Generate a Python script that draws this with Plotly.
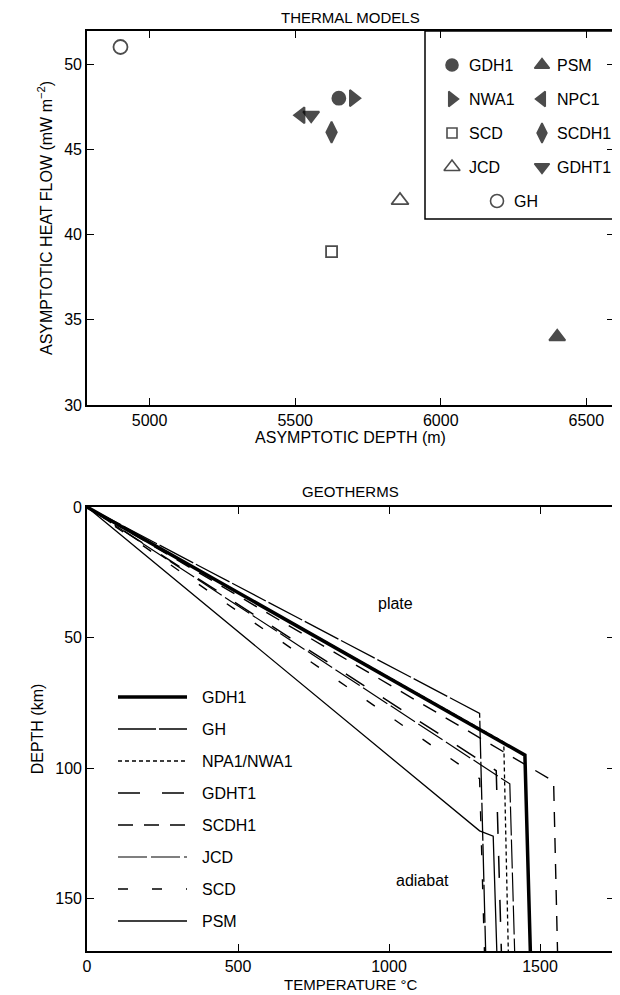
import plotly.graph_objects as go

# ---------------- Top chart: thermal models ----------------
models = ["GDH1", "PSM", "NWA1", "NPC1", "SCD", "SCDH1", "JCD", "GDHT1", "GH"]
asym_depth_m = [5650, 6400, 5700, 5520, 5625, 5625, 5860, 5555, 4900]
asym_heat_flow = [48, 34, 48, 47, 39, 46, 42, 47, 51]
top_x_ticks = [5000, 5500, 6000, 6500]
top_y_ticks = [30, 35, 40, 45, 50]

# ---------------- Bottom chart: geotherms ----------------
geo_names = ["GDH1", "GH", "NPA1/NWA1", "GDHT1", "SCDH1", "JCD", "SCD", "PSM"]
gdh1_T = [0, 1450, 1468]
gdh1_z = [0, 95, 170]
gh_T = [0, 1300, 1320]
gh_z = [0, 79, 170]
npa1_T = [0, 1380, 1395]
npa1_z = [0, 90, 170]
gdht1_T = [0, 1355, 1372]
gdht1_z = [0, 101, 170]
scdh1_T = [0, 1545, 1558]
scdh1_z = [0, 105, 170]
jcd_T = [0, 1400, 1416]
jcd_z = [0, 106, 170]
scd_T = [0, 1300, 1316]
scd_z = [0, 104, 170]
psm_T = [0, 1300, 1345, 1357]
psm_z = [0, 124, 126, 170]
bottom_x_ticks = [0, 500, 1000, 1500]
bottom_y_ticks = [0, 50, 100, 150]

geo_T = [gdh1_T, gh_T, npa1_T, gdht1_T, scdh1_T, jcd_T, scd_T, psm_T]
geo_z = [gdh1_z, gh_z, npa1_z, gdht1_z, scdh1_z, jcd_z, scd_z, psm_z]

# ---------------- Styles ----------------
FONT = "Liberation Sans, Arial, sans-serif"
marker_style = {
    "GDH1": dict(symbol="circle", size=13),
    "PSM": dict(symbol="triangle-up", size=14),
    "NWA1": dict(symbol="triangle-right", size=14),
    "NPC1": dict(symbol="triangle-left", size=14),
    "SCD": dict(symbol="square-open", size=11),
    "SCDH1": dict(symbol="diamond-tall", size=15),
    "JCD": dict(symbol="triangle-up-open", size=15),
    "GDHT1": dict(symbol="triangle-down", size=14),
    "GH": dict(symbol="circle-open", size=14),
}
line_style = {
    "GDH1": dict(width=3.5, dash="solid"),
    "GH": dict(width=1.3, dash="38px,3px"),
    "NPA1/NWA1": dict(width=1.3, dash="4px,3px"),
    "GDHT1": dict(width=1.5, dash="22px,22px"),
    "SCDH1": dict(width=1.4, dash="15px,11px"),
    "JCD": dict(width=1.2, dash="29px,4px"),
    "SCD": dict(width=1.4, dash="10px,24px"),
    "PSM": dict(width=1.3, dash="solid"),
}

# ---------------- Geometry ----------------
# The page body has an 8 px margin, so the figure is drawn 8 px smaller and
# all screen positions below are given in window pixels.
OFF = 8
WIN_W, WIN_H = 620, 995
W, H = WIN_W - OFF, WIN_H - OFF
S_LEFT, S_RIGHT, S_TOP, S_BOTTOM = 87, 614, 31, 951      # plot area in window px
ML, MT = S_LEFT - OFF, S_TOP - OFF
MR, MB = WIN_W - S_RIGHT, WIN_H - S_BOTTOM
PH = S_BOTTOM - S_TOP

def py(sy):  # window pixel y -> paper y
    return (S_BOTTOM - sy) / PH

top_dom = [py(405), 1.0]
bot_dom = [0.0, py(507)]

fig = go.Figure()

# data: top scatter
fig.add_trace(go.Scatter(
    x=asym_depth_m, y=asym_heat_flow, mode="markers",
    marker=dict(color="black",
                symbol=[marker_style[m]["symbol"] for m in models],
                size=[marker_style[m]["size"] for m in models],
                line=dict(color="black", width=1.8)),
    xaxis="x", yaxis="y", showlegend=False, cliponaxis=False,
))

# data: bottom geotherms
for name, T, z in zip(geo_names, geo_T, geo_z):
    st = line_style[name]
    fig.add_trace(go.Scatter(
        x=T, y=z, mode="lines",
        line=dict(color="black", width=st["width"], dash=st["dash"]),
        xaxis="x2", yaxis="y2", showlegend=False,
    ))

# ---------------- Manual legends on a window-pixel overlay axis ----------------
leg_col_marker = [452, 542]
leg_col_text = [467, 555]
leg_row0, leg_row_step = 65, 34
lx, ly = [], []
for i, m in enumerate(models):
    r, c = divmod(i, 2)
    if i == len(models) - 1 and len(models) % 2 == 1:
        mx, tx = 497, 512
    else:
        mx, tx = leg_col_marker[c], leg_col_text[c]
    yy = leg_row0 + r * leg_row_step
    lx.append(mx); ly.append(yy)
    fig.add_annotation(x=tx, y=yy, xref="x3", yref="y3", text=m, showarrow=False,
                       xanchor="left", yanchor="middle",
                       font=dict(family=FONT, size=16, color="black"))
fig.add_trace(go.Scatter(
    x=lx, y=ly, mode="markers", xaxis="x3", yaxis="y3", showlegend=False,
    marker=dict(color="black",
                symbol=[marker_style[m]["symbol"] for m in models],
                size=[marker_style[m]["size"] - 1 for m in models],
                line=dict(color="black", width=1.6)),
    cliponaxis=False,
))
fig.add_shape(type="rect", xref="x3", yref="y3", x0=425, x1=S_RIGHT, y0=S_TOP, y1=219,
              line=dict(color="black", width=1.5))

bl_x0, bl_x1, bl_tx = 118, 187, 200
bl_row0, bl_step = 697, 32
for i, name in enumerate(geo_names):
    st = line_style[name]
    yy = bl_row0 + i * bl_step
    fig.add_trace(go.Scatter(
        x=[bl_x0, bl_x1], y=[yy, yy], mode="lines", xaxis="x3", yaxis="y3",
        line=dict(color="black", width=st["width"], dash=st["dash"]),
        showlegend=False,
    ))
    fig.add_annotation(x=bl_tx, y=yy, xref="x3", yref="y3", text=name, showarrow=False,
                       xanchor="left", yanchor="middle",
                       font=dict(family=FONT, size=16, color="black"))

# region labels
fig.add_annotation(x=1020, y=37, xref="x2", yref="y2", text="plate", showarrow=False,
                   font=dict(family=FONT, size=16, color="black"))
fig.add_annotation(x=1110, y=143, xref="x2", yref="y2", text="adiabat", showarrow=False,
                   font=dict(family=FONT, size=16, color="black"))

# titles
fig.add_annotation(x=0.5, y=py(18), xref="paper", yref="paper", text="THERMAL MODELS",
                   showarrow=False, yanchor="middle",
                   font=dict(family=FONT, size=15, color="black"))
fig.add_annotation(x=0.5, y=py(492), xref="paper", yref="paper", text="GEOTHERMS",
                   showarrow=False, yanchor="middle",
                   font=dict(family=FONT, size=15, color="black"))
fig.add_annotation(x=0.5, y=py(985), xref="paper", yref="paper", text="TEMPERATURE °C",
                   showarrow=False, yanchor="middle",
                   font=dict(family=FONT, size=15, color="black"))

axis_common = dict(showline=True, linecolor="black", linewidth=1.6, mirror="ticks",
                   ticks="inside", ticklen=7, tickwidth=1.3, tickcolor="black",
                   showgrid=False, zeroline=False,
                   tickfont=dict(family=FONT, size=16, color="black"))

fig.update_layout(
    width=W, height=H,
    margin=dict(l=ML, r=MR, t=MT, b=MB, autoexpand=False),
    paper_bgcolor="white", plot_bgcolor="rgba(0,0,0,0)",
    showlegend=False,
    xaxis=dict(domain=[0, 1], anchor="y", range=[4785, 6595], tickvals=top_x_ticks,
               title=dict(text="ASYMPTOTIC DEPTH (m)", standoff=3,
                          font=dict(family=FONT, size=16, color="black")),
               **axis_common),
    yaxis=dict(domain=top_dom, anchor="x", range=[30, 51.94], tickvals=top_y_ticks,
               title=dict(text="ASYMPTOTIC HEAT FLOW (mW m<sup>−2</sup>)", standoff=8,
                          font=dict(family=FONT, size=16, color="black")),
               **axis_common),
    xaxis2=dict(domain=[0, 1], anchor="y2", range=[0, 1745], tickvals=bottom_x_ticks,
                **axis_common),
    yaxis2=dict(domain=bot_dom, anchor="x2", range=[170, 0], tickvals=bottom_y_ticks,
                title=dict(text="DEPTH (km)", standoff=8,
                           font=dict(family=FONT, size=16, color="black")),
                **axis_common),
    xaxis3=dict(domain=[0, 1], anchor="y3", range=[S_LEFT, S_RIGHT], visible=False,
                fixedrange=True),
    yaxis3=dict(domain=[0, 1], anchor="x3", range=[S_BOTTOM, S_TOP], visible=False,
                fixedrange=True),
)

fig.write_html("out.html")
